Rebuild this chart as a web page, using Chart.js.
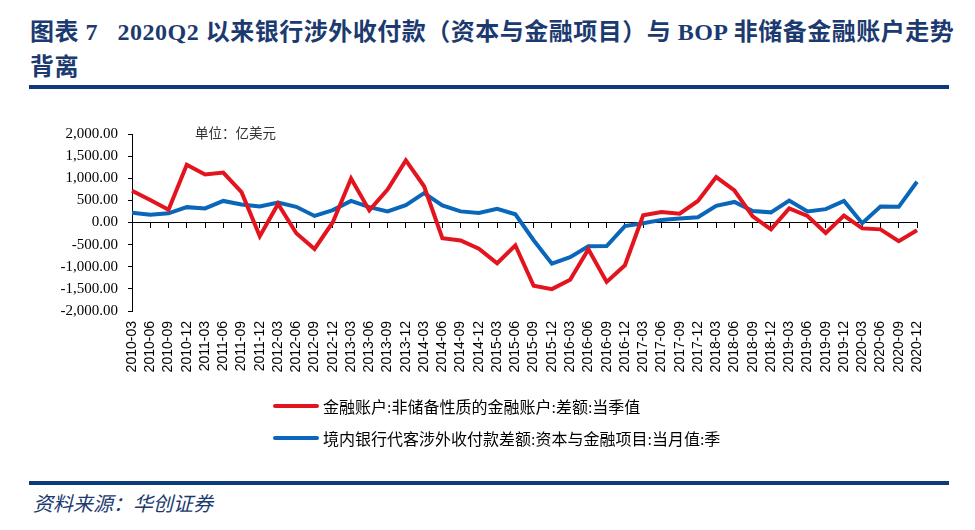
<!DOCTYPE html>
<html>
<head>
<meta charset="utf-8">
<script src="https://cdn.jsdelivr.net/npm/chart.js@4"></script>
<style>
  html, body { margin: 0; padding: 0; background: #fff; }
  body { width: 975px; height: 530px; position: relative; overflow: hidden; }
  .title { position: absolute; left: 30px; top: 15px; font: bold 24px/35px "Liberation Serif", "Noto Sans CJK SC", serif; color: #1b3a70; white-space: nowrap; letter-spacing: 0.5px; }
  .rule { position: absolute; left: 29px; width: 920px; background: #0c3b7c; }
  .unit { position: absolute; left: 195px; top: 122px; font: 13.5px "Liberation Serif", "Noto Sans CJK SC", serif; color: #333; }
  #legend { position: absolute; left: 273px; top: 395px; font: 16px "Liberation Serif", "Noto Sans CJK SC", serif; color: #000; }
  #legend .item { display: flex; align-items: center; height: 22px; margin-bottom: 10px; }
  #legend .swatch { width: 46px; height: 4px; margin-right: 4px; border-radius: 2px; }
  .source { position: absolute; left: 33px; top: 488px; font: italic 20px "Noto Sans CJK SC", sans-serif; color: #1b3a70; }
  #wrap { position: absolute; left: 0; top: 115px; width: 975px; height: 280px; }
</style>
</head>
<body>
<div class="title">图表 7&nbsp;&nbsp;&nbsp;2020Q2 以来银行涉外收付款（资本与金融项目）与 BOP 非储备金融账户走势<br>背离</div>
<div class="rule" style="top:85px;height:4px"></div>
<div id="wrap"><canvas id="chart"></canvas></div>
<div class="unit">单位：亿美元</div>
<div id="legend"></div>
<div class="rule" style="top:481px;height:3.5px"></div>
<div class="source">资料来源：华创证券</div>
<script>
const quarters = ['2010-03','2010-06','2010-09','2010-12','2011-03','2011-06','2011-09','2011-12',
  '2012-03','2012-06','2012-09','2012-12','2013-03','2013-06','2013-09','2013-12',
  '2014-03','2014-06','2014-09','2014-12','2015-03','2015-06','2015-09','2015-12',
  '2016-03','2016-06','2016-09','2016-12','2017-03','2017-06','2017-09','2017-12',
  '2018-03','2018-06','2018-09','2018-12','2019-03','2019-06','2019-09','2019-12',
  '2020-03','2020-06','2020-09','2020-12'];

// 亿美元
const bopNonReserve = [716, 510, 290, 1306, 1085, 1129, 686, -310, 420, -244, -598, 7,
  996, 273, 745, 1402, 819, -354, -406, -590, -922, -517, -1430, -1506,
  -1292, -605, -1343, -967, 162, 236, 199, 487, 1026, 723, 140, -155,
  317, 148, -236, 155, -133, -155, -421, -177];
const bankCapital = [221, 177, 207, 347, 317, 487, 406, 362, 450, 354, 148, 280,
  487, 347, 251, 391, 664, 384, 251, 214, 310, 185, -400, -930,
  -782, -539, -531, -81, -15, 59, 89, 118, 376, 465, 258, 229,
  494, 251, 302, 487, -15, 362, 354, 922];

const seriesNames = ['金融账户:非储备性质的金融账户:差额:当季值', '境内银行代客涉外收付款差额:资本与金融项目:当月值:季'];
const seriesColors = ['#e3141e', '#0a66b8'];
const yTicks = { min: -2000, max: 2000, step: 500 };

const datasets = [bopNonReserve, bankCapital].map((d, i) => ({
  label: seriesNames[i], data: d, borderColor: seriesColors[i], backgroundColor: seriesColors[i],
  borderWidth: 4, pointRadius: 0, tension: 0, xAxisID: 'x', yAxisID: 'y'
}));

// html legend, stacked like the original
const legend = document.getElementById('legend');
datasets.forEach(ds => {
  legend.insertAdjacentHTML('beforeend', `<div class="item"><span class="swatch" style="background:${ds.borderColor}"></span><span>${ds.label}</span></div>`);
});

const fmt = (v) => Number(v).toLocaleString('en-US', { minimumFractionDigits: 2, maximumFractionDigits: 2 });

new Chart(document.getElementById('chart'), {
  type: 'line',
  data: { labels: quarters, datasets },
  options: {
    responsive: true, maintainAspectRatio: false, animation: false,
    layout: { padding: { left: 0, right: 58, top: 16, bottom: 0 } },
    plugins: { legend: { display: false }, tooltip: { enabled: false } },
    scales: {
      x: {
        type: 'category', position: { y: 0 }, offset: false,
        ticks: { display: false },
        grid: { drawOnChartArea: false, tickLength: 5, color: '#000' },
        border: { color: '#000', width: 1 }
      },
      xLabels: {
        type: 'category', position: 'bottom', labels: quarters, offset: false,
        grid: { display: false, drawTicks: false },
        border: { display: false },
        ticks: { autoSkip: false, maxRotation: 90, minRotation: 90, padding: 10,
          color: '#000', font: { family: 'Liberation Sans, Arial, sans-serif', size: 14 } },
        afterFit: (s) => { s.height = 84; }
      },
      y: {
        min: yTicks.min, max: yTicks.max,
        ticks: { stepSize: yTicks.step, padding: 10, color: '#000', callback: fmt,
          font: { family: 'Liberation Serif, Times New Roman, serif', size: 15 } },
        grid: { drawOnChartArea: false, tickLength: 4, color: '#000' },
        border: { color: '#000', width: 1 },
        afterFit: (s) => { s.width = 132; }
      }
    }
  }
});
</script>
</body>
</html>
